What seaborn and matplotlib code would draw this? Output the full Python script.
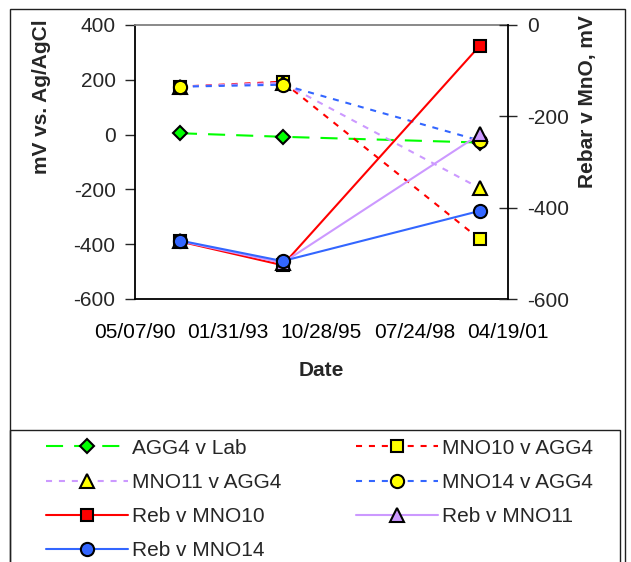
import pandas as pd
import matplotlib
matplotlib.use("Agg")
import matplotlib.pyplot as plt
import matplotlib.dates as mdates
from matplotlib.lines import Line2D
from matplotlib.patches import Rectangle
import seaborn as sns

# data
dates = ["1991-09-01", "1994-09-06", "2000-06-22"]
agg4_lab = [5, -8, -29]
mno10_agg4 = [175, 193, -382]
mno11_agg4 = [175, 189, -196]
mno14_agg4 = [175, 182, -22]
reb_mno10 = [-474, -526, -45]
reb_mno11 = [-473, -521, -239]
reb_mno14 = [-472, -517, -407]

x_ticks = ["05/07/90", "01/31/93", "10/28/95", "07/24/98", "04/19/01"]
left_ticks = [-600, -400, -200, 0, 200, 400]
right_ticks = [-600, -400, -200, 0]

sns.set_style("white")
plt.rcParams["font.family"] = ["Liberation Sans", "DejaVu Sans"]
plt.rcParams["axes.unicode_minus"] = False

W, H = 631, 562
fig = plt.figure(figsize=(W / 100, H / 100), dpi=100)
ax = fig.add_axes([135 / W, 1 - 299 / H, 373 / W, 274 / H])
ax2 = ax.twinx()

x = pd.to_datetime(dates)
tick_dates = pd.to_datetime(x_ticks, format="%m/%d/%y")

GREEN, RED, LILAC, BLUE, YELLOW = "#00ff00", "#ff0000", "#cc99ff", "#3366ff", "#ffff00"
dash_long = (0, (8.2, 5.3))
dot = (0, (2.9, 3.3))
mk = dict(markeredgecolor="black", markeredgewidth=1.5)

series = [
    (ax, agg4_lab, "AGG4 v Lab", GREEN, dash_long, "D", GREEN, 7),
    (ax, mno10_agg4, "MNO10 v AGG4", RED, dot, "s", YELLOW, 9.3),
    (ax, mno11_agg4, "MNO11 v AGG4", LILAC, dot, "^", YELLOW, 10),
    (ax, mno14_agg4, "MNO14 v AGG4", BLUE, dot, "o", YELLOW, 9.5),
    (ax2, reb_mno10, "Reb v MNO10", RED, "-", "s", RED, 9.3),
    (ax2, reb_mno11, "Reb v MNO11", LILAC, "-", "^", LILAC, 10),
    (ax2, reb_mno14, "Reb v MNO14", BLUE, "-", "o", BLUE, 9.5),
]

handles = {}
for a, vals, name, col, ls, m, fc, ms in series:
    sns.lineplot(x=x, y=vals, ax=a, color=col, linestyle=ls, linewidth=1.5,
                 marker=m, markerfacecolor=fc, markersize=ms, errorbar=None,
                 legend=False, **mk)
    handles[name] = Line2D([], [], color=col, linestyle=ls, linewidth=1.5,
                           marker=m, markerfacecolor=fc, markersize=ms, **mk)

ax.set_xlim(tick_dates[0], tick_dates[-1])
ax.set_xticks(tick_dates)
ax.xaxis.set_major_formatter(mdates.DateFormatter("%m/%d/%y"))
ax.set_ylim(-600, 400)
ax.set_yticks(left_ticks)
ax2.set_ylim(-600, 0)
ax2.set_yticks(right_ticks)

ax.tick_params(axis="x", direction="inout", length=12, width=1, pad=11, labelsize=15, colors="black")
ax.tick_params(axis="y", direction="out", length=7, width=1, pad=7, labelsize=15, left=True)
ax2.tick_params(axis="y", direction="inout", length=13, width=1, pad=7, labelsize=15, right=True)

for s in ["left", "bottom"]:
    ax.spines[s].set_color("black")
    ax.spines[s].set_linewidth(1.3)
ax.spines["top"].set_color("#808080")
ax.spines["top"].set_linewidth(1.3)
ax.spines["right"].set_visible(False)
for s in ["left", "bottom", "top"]:
    ax2.spines[s].set_visible(False)
ax2.spines["right"].set_color("black")
ax2.spines["right"].set_linewidth(1.3)

ax.set_xlabel("Date", fontsize=15, fontweight="bold", labelpad=14)
ax.set_ylabel("mV vs. Ag/AgCl", fontsize=15, fontweight="bold")
ax.yaxis.label.set(va="center", ha="center")
ax.yaxis.set_label_coords((42 - 135) / 373, (299 - 97) / 274)
ax2.set_ylabel("Rebar v MnO, mV", fontsize=15, fontweight="bold", rotation=90)
ax2.yaxis.label.set(va="center", ha="center")
ax2.yaxis.set_label_coords((587 - 135) / 373, (299 - 102) / 274)

# legend, filled column by column
order = ["AGG4 v Lab", "MNO11 v AGG4", "Reb v MNO10", "Reb v MNO14",
         "MNO10 v AGG4", "MNO14 v AGG4", "Reb v MNO11"]
fig.legend([handles[n] for n in order], order, ncol=2, loc="upper left",
           bbox_to_anchor=(46 / W, 1 - 438.7 / H), frameon=False, fontsize=15,
           handlelength=3.95, handletextpad=0.2, columnspacing=3.55,
           labelspacing=0.73, borderpad=0, borderaxespad=0, numpoints=1)

# chart area and legend boxes
fig.add_artist(Rectangle((10 / W, -0.1), 615 / W, 1.1 - 9 / H, transform=fig.transFigure,
                         fill=False, edgecolor="#202020", linewidth=1))
fig.add_artist(Rectangle((10 / W, -0.1), 610 / W, 0.1 + 1 - 430 / H, transform=fig.transFigure,
                         fill=False, edgecolor="#202020", linewidth=1))

fig.savefig("out.png", dpi=100)
